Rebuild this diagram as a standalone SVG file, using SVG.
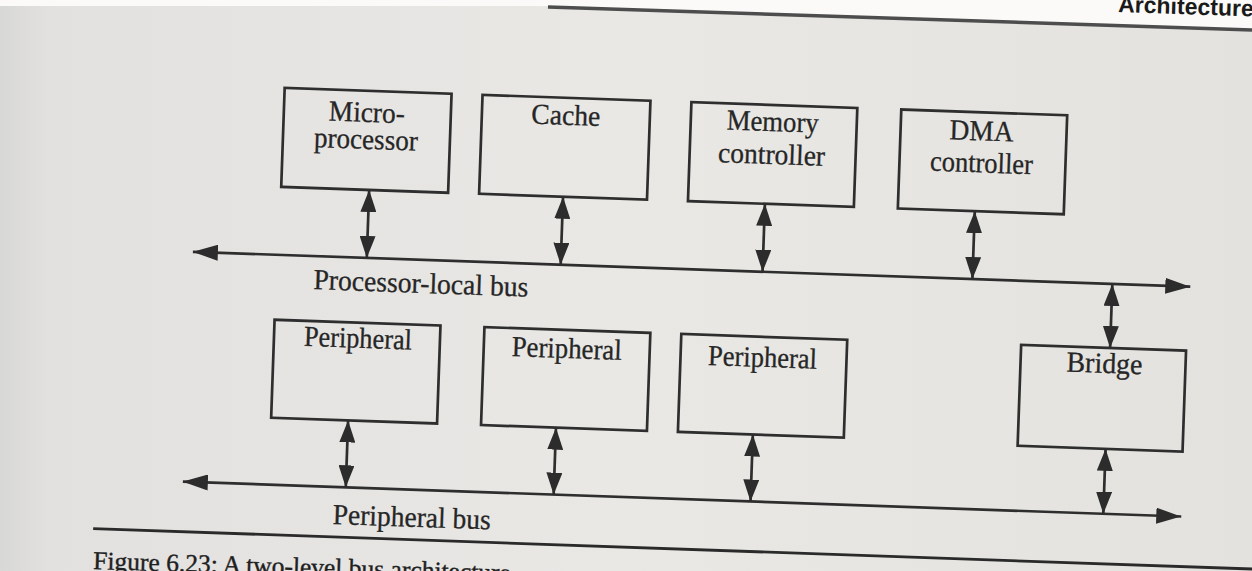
<svg xmlns="http://www.w3.org/2000/svg" width="1252" height="571" viewBox="0 0 1252 571">
  <defs>
    <linearGradient id="paper" x1="0" y1="0" x2="1" y2="0">
      <stop offset="0" stop-color="#d8d8d6"/>
      <stop offset="0.04" stop-color="#e2e1df"/>
      <stop offset="0.5" stop-color="#e9e8e5"/>
      <stop offset="1" stop-color="#e3e2df"/>
    </linearGradient>
    <!-- arrowhead for the short bus links -->
    <marker id="tip" viewBox="0 0 22 16" refX="22" refY="8" markerWidth="22" markerHeight="16" markerUnits="userSpaceOnUse" orient="auto-start-reverse">
      <path d="M0,0 L22,8 L0,16 z" fill="#2c2c2c"/>
    </marker>
    <!-- arrowhead for the ends of the buses -->
    <marker id="bustip" viewBox="0 0 25 16" refX="25" refY="8" markerWidth="25" markerHeight="16" markerUnits="userSpaceOnUse" orient="auto-start-reverse">
      <path d="M0,0 L25,8 L0,16 z" fill="#2c2c2c"/>
    </marker>
  </defs>
  <style>
    .box { fill: none; stroke: #2e2e2e; stroke-width: 2.7; }
    .lbl { font-family: "Liberation Serif", "Times New Roman", serif; font-size: 29px; fill: #262626; stroke: #262626; stroke-width: 0.3; text-anchor: middle; }
    .wire { stroke: #2e2e2e; stroke-width: 2.7; fill: none; }
    .rule { stroke: #2a2a2a; stroke-width: 2.8; fill: none; }
    .cap { font-family: "Liberation Serif", "Times New Roman", serif; font-size: 25.5px; fill: #1f1f1f; stroke: #1f1f1f; stroke-width: 0.4; }
    .head { font-family: "Liberation Sans", Arial, sans-serif; font-weight: bold; font-size: 23px; fill: #1a1a1a; }
  </style>

  <!-- page -->
  <rect x="0" y="0" width="1252" height="571" fill="url(#paper)"/>
  <polygon points="0,0 1252,0 1252,29 548,6 0,6" fill="#fbfaf8"/>
  <line x1="548" y1="7" x2="1252" y2="30" stroke="#4d4d4d" stroke-width="3.5"/>
  <text class="head" x="1118" y="12" transform="rotate(1.9 1118 12)">Architecture</text>

  <g transform="rotate(2 626 285)">
    <!-- connectors -->
    <g id="connectors">
      <line id="processor-local-bus" class="wire" x1="192" y1="267" x2="1190" y2="267" marker-start="url(#bustip)" marker-end="url(#bustip)"/>
      <line id="peripheral-bus" class="wire" x1="190" y1="497" x2="1189" y2="497" marker-start="url(#bustip)" marker-end="url(#bustip)"/>
      <line class="wire" x1="366" y1="199" x2="366" y2="267" marker-start="url(#tip)" marker-end="url(#tip)"/>
      <line class="wire" x1="560" y1="199" x2="560" y2="267" marker-start="url(#tip)" marker-end="url(#tip)"/>
      <line class="wire" x1="762" y1="199" x2="762" y2="267" marker-start="url(#tip)" marker-end="url(#tip)"/>
      <line class="wire" x1="972" y1="199" x2="972" y2="267" marker-start="url(#tip)" marker-end="url(#tip)"/>
      <line class="wire" x1="1112" y1="267" x2="1112" y2="331" marker-start="url(#tip)" marker-end="url(#tip)"/>
      <line class="wire" x1="353" y1="430" x2="353" y2="497" marker-start="url(#tip)" marker-end="url(#tip)"/>
      <line class="wire" x1="561" y1="430" x2="561" y2="497" marker-start="url(#tip)" marker-end="url(#tip)"/>
      <line class="wire" x1="758" y1="430" x2="758" y2="497" marker-start="url(#tip)" marker-end="url(#tip)"/>
      <line class="wire" x1="1111" y1="432" x2="1111" y2="497" marker-start="url(#tip)" marker-end="url(#tip)"/>
    </g>

    <!-- processor-side nodes -->
    <g id="microprocessor">
      <rect class="box" x="278" y="100" width="167" height="99"/>
      <text class="lbl" x="361" y="131" textLength="76" lengthAdjust="spacingAndGlyphs">Micro-</text>
      <text class="lbl" x="361" y="158" textLength="104" lengthAdjust="spacingAndGlyphs">processor</text>
    </g>
    <g id="cache">
      <rect class="box" x="476" y="100" width="168" height="99"/>
      <text class="lbl" x="560" y="127" textLength="69" lengthAdjust="spacingAndGlyphs">Cache</text>
    </g>
    <g id="memory-controller">
      <rect class="box" x="685" y="100" width="166" height="99"/>
      <text class="lbl" x="767" y="126" textLength="92" lengthAdjust="spacingAndGlyphs">Memory</text>
      <text class="lbl" x="767" y="159" textLength="107" lengthAdjust="spacingAndGlyphs">controller</text>
    </g>
    <g id="dma-controller">
      <rect class="box" x="895" y="100" width="166" height="99"/>
      <text class="lbl" x="976" y="128" textLength="64" lengthAdjust="spacingAndGlyphs">DMA</text>
      <text class="lbl" x="977" y="160" textLength="103" lengthAdjust="spacingAndGlyphs">controller</text>
    </g>

    <!-- peripheral-side nodes -->
    <g id="peripheral-1">
      <rect class="box" x="276" y="332" width="166" height="98"/>
      <text class="lbl" x="360" y="357" textLength="108" lengthAdjust="spacingAndGlyphs">Peripheral</text>
    </g>
    <g id="peripheral-2">
      <rect class="box" x="486" y="332" width="166" height="98"/>
      <text class="lbl" x="569" y="360" textLength="110" lengthAdjust="spacingAndGlyphs">Peripheral</text>
    </g>
    <g id="peripheral-3">
      <rect class="box" x="683" y="332" width="166" height="98"/>
      <text class="lbl" x="765" y="362" textLength="109" lengthAdjust="spacingAndGlyphs">Peripheral</text>
    </g>
    <g id="bridge">
      <rect class="box" x="1023" y="331" width="165" height="101"/>
      <text class="lbl" x="1107" y="356" textLength="76" lengthAdjust="spacingAndGlyphs">Bridge</text>
    </g>

    <!-- bus names -->
    <text class="lbl" x="421" y="300" textLength="215" lengthAdjust="spacingAndGlyphs">Processor-local bus</text>
    <text class="lbl" x="420" y="534" textLength="158" lengthAdjust="spacingAndGlyphs">Peripheral bus</text>

    <!-- figure rule -->
    <line class="rule" x1="102" y1="547" x2="1320" y2="547"/>
  </g>

  <text class="cap" x="93" y="569" transform="rotate(1.7 93 569)">Figure 6.23: A two-level bus architecture</text>
</svg>
